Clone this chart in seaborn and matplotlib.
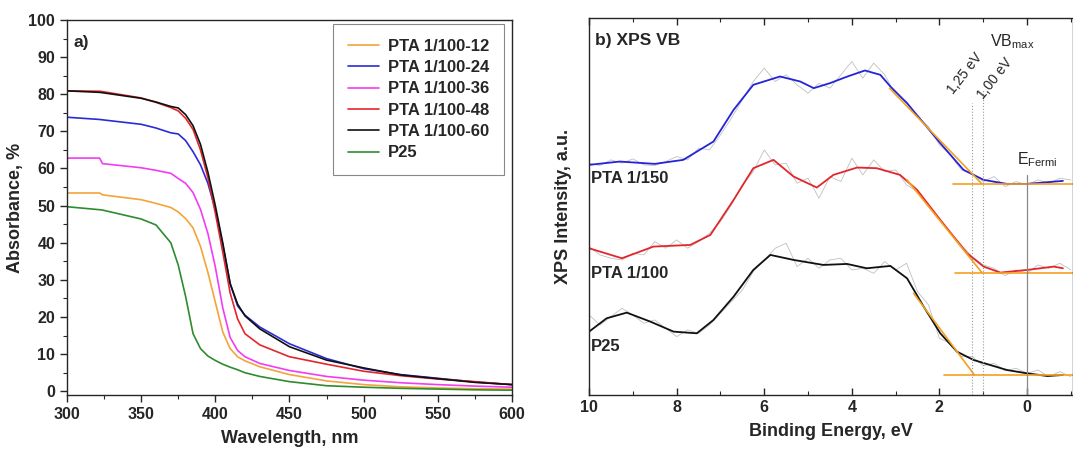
import numpy as np
import pandas as pd
import matplotlib
matplotlib.use('Agg')
import matplotlib.pyplot as plt
from matplotlib.ticker import MultipleLocator
import seaborn as sns

# ---- panel a) UV-Vis absorbance ----
wavelength = [300, 322, 324, 350, 360, 370, 375, 380, 385, 390, 395, 400,
              405, 410, 415, 420, 430, 450, 475, 500, 525, 550, 575, 600]

abs_pta_12 = [53.4, 53.4, 52.9, 51.6, 50.6, 49.5, 48.3, 46.5, 44.0, 39.0, 32.0, 24.0,
              16.0, 11.5, 9.3, 8.2, 6.6, 4.5, 2.8, 1.8, 1.2, 0.9, 0.7, 0.6]
abs_pta_24 = [73.8, 73.2, 73.1, 71.9, 70.9, 69.6, 69.3, 67.5, 64.5, 61.0, 56.0, 49.0,
              39.5, 29.0, 23.0, 20.5, 17.3, 12.8, 8.8, 6.1, 4.5, 3.5, 2.5, 1.8]
abs_pta_36 = [62.8, 62.8, 61.3, 60.2, 59.5, 58.7, 57.3, 56.0, 53.5, 49.0, 42.5, 33.5,
              22.5, 14.5, 11.0, 9.3, 7.5, 5.6, 4.0, 3.0, 2.3, 1.8, 1.4, 1.1]
abs_pta_48 = [80.9, 80.8, 80.7, 79.0, 77.8, 76.4, 75.5, 73.5, 70.5, 65.0, 57.5, 48.0,
              37.5, 26.5, 19.5, 15.5, 12.5, 9.3, 7.3, 5.4, 4.2, 3.3, 2.6, 1.8]
abs_pta_60 = [80.9, 80.5, 80.4, 78.9, 77.9, 76.7, 76.3, 74.5, 71.5, 66.5, 59.0, 50.0,
              40.0, 29.0, 23.5, 20.3, 16.8, 12.0, 8.4, 6.3, 4.4, 3.4, 2.4, 1.8]
abs_p25 = [49.7, 48.9, 48.8, 46.4, 44.8, 40.0, 34.0, 25.5, 15.5, 11.5, 9.5, 8.3,
           7.3, 6.5, 5.8, 5.0, 4.0, 2.6, 1.5, 1.1, 0.8, 0.6, 0.4, 0.3]

abs_labels = ['PTA 1/100-12', 'PTA 1/100-24', 'PTA 1/100-36',
              'PTA 1/100-48', 'PTA 1/100-60', 'P25']
abs_colors = ['#f5a33a', '#2b2bd6', '#f23cf2', '#e3262b', '#111111', '#2e8b2e']

# ---- panel b) XPS valence band ----
be_smooth_150 = [10, 9.3, 8.5, 7.85, 7.16, 6.7, 6.25, 5.64, 5.18, 4.87, 4.5,
                 4.1, 3.7, 3.35, 3.12, 2.74, 1.98, 1.45, 0.99, 0.46, 0.0, -0.82]
int_smooth_150 = [69.0, 70.0, 69.3, 70.5, 76.0, 85.5, 93.0, 95.5, 94.0, 92.0, 93.5,
                  95.5, 97.3, 96.0, 92.5, 87.5, 75.5, 67.5, 64.5, 63.3, 63.3, 64.2]

be_smooth_100 = [10, 9.25, 8.53, 7.69, 7.23, 6.7, 6.25, 5.79, 5.33, 4.8, 4.42,
                 3.88, 3.43, 2.9, 2.51, 1.98, 1.37, 0.99, 0.61, 0.0, -0.61, -0.82]
int_smooth_100 = [44.0, 41.0, 44.5, 45.0, 48.0, 58.5, 68.0, 70.5, 65.5, 62.2, 66.0,
                  68.2, 68.0, 66.0, 61.5, 52.5, 42.5, 38.5, 36.7, 37.5, 38.5, 38.0]

be_smooth_p25 = [10, 9.6, 9.14, 8.6, 8.07, 7.54, 7.16, 6.7, 6.25, 5.86, 5.33, 4.65,
                 4.11, 3.66, 3.12, 2.74, 2.36, 1.98, 1.6, 1.22, 0.46, 0.0, -0.46, -0.82]
int_smooth_p25 = [19.0, 23.0, 24.7, 22.0, 19.0, 18.5, 22.5, 29.5, 37.5, 42.0, 40.5, 39.0,
                  39.3, 38.0, 38.7, 35.0, 26.5, 18.5, 13.0, 10.5, 7.5, 6.5, 5.7, 6.0]

be_raw = [10, 9.75, 9.5, 9.25, 9.0, 8.75, 8.5, 8.25, 8.0, 7.75, 7.5, 7.25, 7.0,
          6.75, 6.5, 6.25, 6.0, 5.75, 5.5, 5.25, 5.0, 4.75, 4.5, 4.25, 4.0, 3.75,
          3.5, 3.25, 3.0, 2.75, 2.5, 2.25, 2.0, 1.75, 1.5, 1.25, 1.0, 0.75, 0.5,
          0.25, 0.0, -0.25, -0.5, -0.75, -1.0]
raw_150 = [69.5, 68.8, 70.5, 69.5, 70.8, 69.0, 68.8, 70.0, 71.5, 70.5, 74.0, 73.5, 78.0,
           83.0, 88.5, 94.0, 98.0, 94.0, 96.0, 93.0, 90.5, 93.5, 92.0, 96.0, 100.0, 95.0,
           99.5, 96.0, 90.0, 88.0, 83.5, 80.5, 75.0, 72.0, 67.5, 66.5, 64.0, 65.5, 62.5,
           64.0, 63.0, 64.5, 63.5, 65.0, 64.5]
raw_100 = [44.5, 42.0, 41.0, 40.5, 42.5, 42.0, 46.0, 44.0, 46.5, 44.0, 46.0, 48.5, 52.0,
           57.0, 63.0, 67.0, 73.5, 69.0, 69.5, 63.5, 65.0, 59.0, 65.5, 64.0, 71.0, 66.0,
           70.5, 67.0, 67.5, 63.0, 61.0, 56.5, 53.0, 48.5, 45.0, 41.5, 39.0, 38.0, 35.8,
           37.5, 36.5, 39.0, 38.0, 39.5, 37.5]
raw_p25 = [24.0, 21.0, 23.5, 26.0, 24.0, 21.5, 22.5, 20.0, 17.5, 19.5, 18.5, 21.0, 24.5,
           28.0, 31.5, 37.0, 40.5, 44.0, 45.5, 38.5, 41.0, 38.0, 40.5, 41.0, 37.5, 38.0,
           36.5, 40.0, 37.5, 39.5, 31.0, 27.0, 17.0, 15.5, 11.5, 11.5, 8.8, 9.5, 7.3,
           8.0, 6.5, 7.5, 5.5, 7.0, 5.5]

# tangent lines (edge extrapolation) and baselines
tan_150_x = [3.14, 1.03]
tan_150_y = [92.0, 63.3]
tan_100_x = [2.74, 1.03]
tan_100_y = [64.5, 36.7]
tan_p25_x = [2.59, 1.20]
tan_p25_y = [30.5, 6.0]
base_x_start = [1.68, 1.65, 1.90]
base_levels = [63.3, 36.7, 6.0]

sample_labels = ['PTA 1/150', 'PTA 1/100', 'P25']
label_y = [64.8, 36.5, 14.5]
vb_colors = ['#2323d8', '#e3262b', '#111111']


def main():
    sns.set_style('ticks')
    plt.rcParams['font.family'] = ['Liberation Sans', 'DejaVu Sans']
    plt.rcParams['mathtext.fontset'] = 'custom'
    plt.rcParams['mathtext.rm'] = 'Liberation Sans'
    plt.rcParams['axes.linewidth'] = 1.0

    fig = plt.figure(figsize=(10.73, 4.53), dpi=100)
    ax1 = fig.add_axes([0.0624, 0.128, 0.4148, 0.828])
    ax2 = fig.add_axes([0.549, 0.128, 0.451, 0.832])

    # ---------- panel a ----------
    series = [abs_pta_12, abs_pta_24, abs_pta_36, abs_pta_48, abs_pta_60, abs_p25]
    for vals, lab, col in zip(series, abs_labels, abs_colors):
        df = pd.DataFrame({'wl': wavelength, 'a': vals})
        sns.lineplot(data=df, x='wl', y='a', ax=ax1, color=col, lw=1.2,
                     label=lab, estimator=None, sort=False)

    ax1.set_xlim(300, 600)
    ax1.set_ylim(-1, 100)
    ax1.xaxis.set_major_locator(MultipleLocator(50))
    ax1.xaxis.set_minor_locator(MultipleLocator(25))
    ax1.yaxis.set_major_locator(MultipleLocator(10))
    ax1.yaxis.set_minor_locator(MultipleLocator(5))
    ax1.tick_params(which='major', direction='out', length=5, width=1, labelsize=11.5)
    ax1.tick_params(which='minor', direction='out', length=3, width=0.8)
    for t in ax1.get_xticklabels() + ax1.get_yticklabels():
        t.set_fontweight('bold')
    ax1.set_xlabel('Wavelength, nm', fontsize=13, fontweight='bold', labelpad=6)
    ax1.set_ylabel('Absorbance, %', fontsize=13, fontweight='bold', labelpad=3)
    ax1.text(0.015, 0.96, 'a)', transform=ax1.transAxes, fontsize=12.5,
             fontweight='bold', va='top')
    leg = ax1.legend(loc='upper right', bbox_to_anchor=(0.982, 0.99), borderaxespad=0,
                     fancybox=False, edgecolor='#888888', framealpha=1,
                     prop={'weight': 'bold', 'size': 12}, handlelength=1.9,
                     handletextpad=0.5, labelspacing=0.38, borderpad=0.9)
    leg.get_frame().set_linewidth(0.8)

    # ---------- panel b ----------
    for raw in [raw_150, raw_100, raw_p25]:
        sns.lineplot(x=be_raw, y=raw, ax=ax2, color='#c0c0c0', lw=0.6,
                     estimator=None, sort=False)
    smooth = [(be_smooth_150, int_smooth_150), (be_smooth_100, int_smooth_100),
              (be_smooth_p25, int_smooth_p25)]
    for (bx, by), col in zip(smooth, vb_colors):
        sns.lineplot(x=bx, y=by, ax=ax2, color=col, lw=1.3, estimator=None, sort=False)

    orange = '#f5a020'
    for tx, ty in [(tan_150_x, tan_150_y), (tan_100_x, tan_100_y), (tan_p25_x, tan_p25_y)]:
        ax2.plot(tx, ty, color=orange, lw=1.2)
    for xs, lvl in zip(base_x_start, base_levels):
        ax2.plot([xs, -1.1], [lvl, lvl], color=orange, lw=1.2)

    ax2.plot([1.25, 1.25], [0, 87.5], color='#999999', lw=0.8, ls=':')
    ax2.plot([1.00, 1.00], [0, 91.3], color='#999999', lw=0.8, ls=':')
    ax2.plot([0, 0], [0, 66.0], color='#888888', lw=0.9)

    ax2.text(1.62, 89.5, '1,25 eV', rotation=52, fontsize=10,
             ha='left', va='bottom', rotation_mode='anchor')
    ax2.text(0.93, 88.0, '1,00 eV', rotation=52, fontsize=10,
             ha='left', va='bottom', rotation_mode='anchor')
    ax2.text(0.84, 106.0, r'VB$_{\mathrm{max}}$', fontsize=11.5,
             ha='left', va='center')
    ax2.text(0.24, 70.5, r'E$_{\mathrm{Fermi}}$', fontsize=11.5,
             ha='left', va='center')

    for lab, ly in zip(sample_labels, label_y):
        ax2.text(9.95, ly, lab, fontsize=12, fontweight='bold', ha='left', va='center')
    ax2.text(0.012, 0.96, 'b) XPS VB', transform=ax2.transAxes, fontsize=12.5,
             fontweight='bold', va='top')

    ax2.set_xlim(10, -1.05)
    ax2.set_ylim(0, 113)
    ax2.set_yticks([])
    ax2.xaxis.set_major_locator(MultipleLocator(2))
    ax2.xaxis.set_minor_locator(MultipleLocator(1))
    ax2.tick_params(axis='x', which='major', direction='in', length=5, width=1,
                    top=True, labelsize=11.5)
    ax2.tick_params(axis='x', which='minor', direction='in', length=3, width=0.8, top=True)
    for t in ax2.get_xticklabels():
        t.set_fontweight('bold')
    ax2.set_xlabel('Binding Energy, eV', fontsize=13, fontweight='bold', labelpad=6)
    ax2.set_ylabel('XPS Intensity, a.u.', fontsize=13, fontweight='bold', labelpad=12)

    fig.savefig('out.png', dpi=100)
    plt.close(fig)


if __name__ == "__main__":
    main()
